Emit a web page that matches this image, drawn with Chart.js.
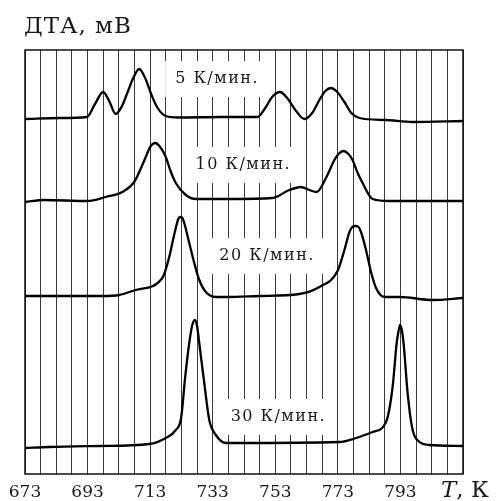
<!DOCTYPE html>
<html><head><meta charset="utf-8">
<script src="https://cdn.jsdelivr.net/npm/chart.js@4/dist/chart.umd.min.js"></script>
<style>html,body{margin:0;padding:0;background:#fff}#wrap{width:497px;height:501px}</style>
</head><body><div id="wrap"><canvas id="c" width="497" height="501"></canvas></div>
<script>
// Temperature, K
const xTickLabels = [673, 693, 713, 733, 753, 773, 793];
const seriesNames = ["5 К/мин.", "10 К/мин.", "20 К/мин.", "30 К/мин."];

const temps5 = [673, 683.9, 692.8, 695.2, 698.0, 699.9, 702.0, 704.0, 705.7, 707.6, 709.5, 711.4, 713.2, 715.2, 718.0, 722.3, 735.1, 747.3, 749.8, 752.0, 754.5, 756.8, 759.4, 762.3, 764.8, 767.1, 769.0, 770.8, 772.8, 775.1, 777.3, 779.9, 788.4, 796.8, 813];
const vals5  = [35.5, 35.6, 35.7, 36.9, 38.2, 37.3, 36.0, 36.8, 38.1, 39.6, 40.5, 39.6, 38.1, 36.7, 35.8, 35.65, 35.7, 35.7, 36.6, 37.7, 38.2, 37.6, 36.4, 35.5, 36.1, 37.4, 38.3, 38.6, 38.2, 37.2, 36.1, 35.6, 35.4, 35.2, 35.3];

const temps10 = [673, 679.1, 692.9, 698.8, 704.1, 707.9, 709.8, 711.6, 713.0, 714.6, 716.2, 718.0, 719.4, 721.2, 724.4, 727.6, 738.3, 752.1, 757.5, 761.2, 763.9, 766.2, 769.2, 771.9, 773.2, 774.8, 776.4, 777.7, 779.2, 780.9, 784.1, 789.5, 813];
const vals10  = [27.2, 27.4, 27.3, 27.7, 28.2, 29.2, 30.4, 31.7, 32.7, 33.1, 32.7, 31.7, 30.4, 29.1, 27.9, 27.5, 27.5, 27.6, 28.4, 28.7, 28.4, 28.2, 29.6, 31.4, 32.0, 32.3, 32.0, 31.4, 30.2, 29.1, 27.5, 27.3, 27.3];

const temps20 = [673, 697.7, 703.1, 708.4, 716.9, 719.1, 720.1, 721.2, 722.0, 722.6, 723.3, 723.9, 725.5, 727.1, 728.7, 730.8, 734.0, 737.2, 747.9, 760.7, 767.1, 772.9, 775.1, 776.7, 777.6, 778.6, 779.6, 780.4, 782.0, 783.6, 785.2, 787.9, 792.7, 803.3, 813];
const vals20  = [17.8, 17.8, 17.9, 18.4, 19.6, 21.7, 23.1, 24.6, 25.5, 25.7, 25.6, 25.1, 23.1, 21.1, 19.4, 18.2, 17.7, 17.7, 17.8, 18.0, 18.7, 20.3, 22.4, 24.2, 24.7, 24.8, 24.7, 24.2, 22.4, 20.2, 18.6, 17.7, 17.7, 17.4, 17.6];

const temps30 = [673, 680.7, 696.7, 712.7, 718.0, 721.2, 722.9, 724.2, 725.5, 726.4, 727.3, 728.0, 728.7, 730.3, 731.9, 734.0, 737.2, 741.5, 773.5, 778.8, 784.1, 788.4, 790.5, 791.8, 792.4, 792.9, 793.5, 794.0, 795.3, 796.7, 799.1, 802.3, 813];
const vals30  = [2.6, 2.7, 2.8, 3.0, 3.6, 4.4, 5.6, 9.7, 13.1, 14.8, 15.4, 14.8, 13.1, 9.1, 5.4, 3.9, 3.1, 3.1, 3.2, 3.6, 4.2, 5.2, 8.7, 13.1, 14.3, 14.9, 14.3, 13.1, 8.1, 4.7, 3.2, 2.9, 2.8];

// label anchor positions (data coords)
const labelPos = [[734.4, 39.5], [742.8, 30.9], [750.4, 21.8], [754.0, 5.7]];

const SERIF = '"DejaVu Serif", "Liberation Serif", serif';
const pairs = (xs, ys) => xs.map((x, i) => ({x, y: ys[i]}));
const mk = (xs, ys, name) => ({label: name, data: pairs(xs, ys), borderColor: '#000', borderWidth: 2.3,
  pointRadius: 0, fill: false, cubicInterpolationMode: 'monotone'});

const deco = {
  id: 'deco',
  beforeDatasetsDraw(chart) {
    const {ctx, chartArea: a, scales: {x, y}} = chart;
    ctx.save();
    ctx.font = '16px ' + SERIF;
    if ('letterSpacing' in ctx) ctx.letterSpacing = '1.5px';
    ctx.textAlign = 'center';
    ctx.textBaseline = 'middle';
    seriesNames.forEach((n, i) => {
      const px = x.getPixelForValue(labelPos[i][0]);
      const py = y.getPixelForValue(labelPos[i][1]);
      const w = ctx.measureText(n).width + 20;
      ctx.fillStyle = '#fff';
      ctx.fillRect(px - w / 2, py - 18, w, 36);
      ctx.fillStyle = '#1a1a1a';
      ctx.fillText(n, px, py);
    });
    ctx.restore();
  },
  afterDraw(chart) {
    const {ctx, chartArea: a} = chart;
    ctx.save();
    ctx.strokeStyle = '#111';
    ctx.lineWidth = 1.5;
    ctx.strokeRect(a.left, a.top, a.right - a.left, a.bottom - a.top);
    ctx.fillStyle = '#1a1a1a';
    ctx.textBaseline = 'alphabetic';
    ctx.textAlign = 'left';
    ctx.font = '23px ' + SERIF;
    if ('letterSpacing' in ctx) ctx.letterSpacing = '1px';
    ctx.fillText('ДТА, мВ', 24, 33);
    ctx.font = 'italic 23px ' + SERIF;
    if ('letterSpacing' in ctx) ctx.letterSpacing = '0px';
    ctx.fillText('T', 441, 497);
    const tw = ctx.measureText('T').width;
    ctx.font = '23px ' + SERIF;
    ctx.fillText(', К', 441 + tw, 497);
    ctx.restore();
  }
};

new Chart(document.getElementById('c'), {
  type: 'line',
  data: {datasets: [mk(temps5, vals5, seriesNames[0]), mk(temps10, vals10, seriesNames[1]),
                    mk(temps20, vals20, seriesNames[2]), mk(temps30, vals30, seriesNames[3])]},
  options: {
    responsive: false, animation: false, devicePixelRatio: 1,
    layout: {padding: {left: 25, right: 34, top: 50, bottom: 0}},
    plugins: {legend: {display: false}, tooltip: {enabled: false}},
    scales: {
      x: {type: 'linear', min: 673, max: 813,
        afterFit: s => { s.height = 27; },
        border: {display: false},
        grid: {color: '#3a3a3a', lineWidth: 1, drawTicks: false},
        ticks: {stepSize: 5, autoSkip: false, maxRotation: 0, padding: 8, color: '#1a1a1a',
          font: {family: SERIF, size: 17},
          callback: v => xTickLabels.includes(Math.round(v)) ? String(Math.round(v)) : ''}
      },
      y: {display: false, min: 0, max: 42.4}
    }
  },
  plugins: [deco]
});
</script></body></html>
